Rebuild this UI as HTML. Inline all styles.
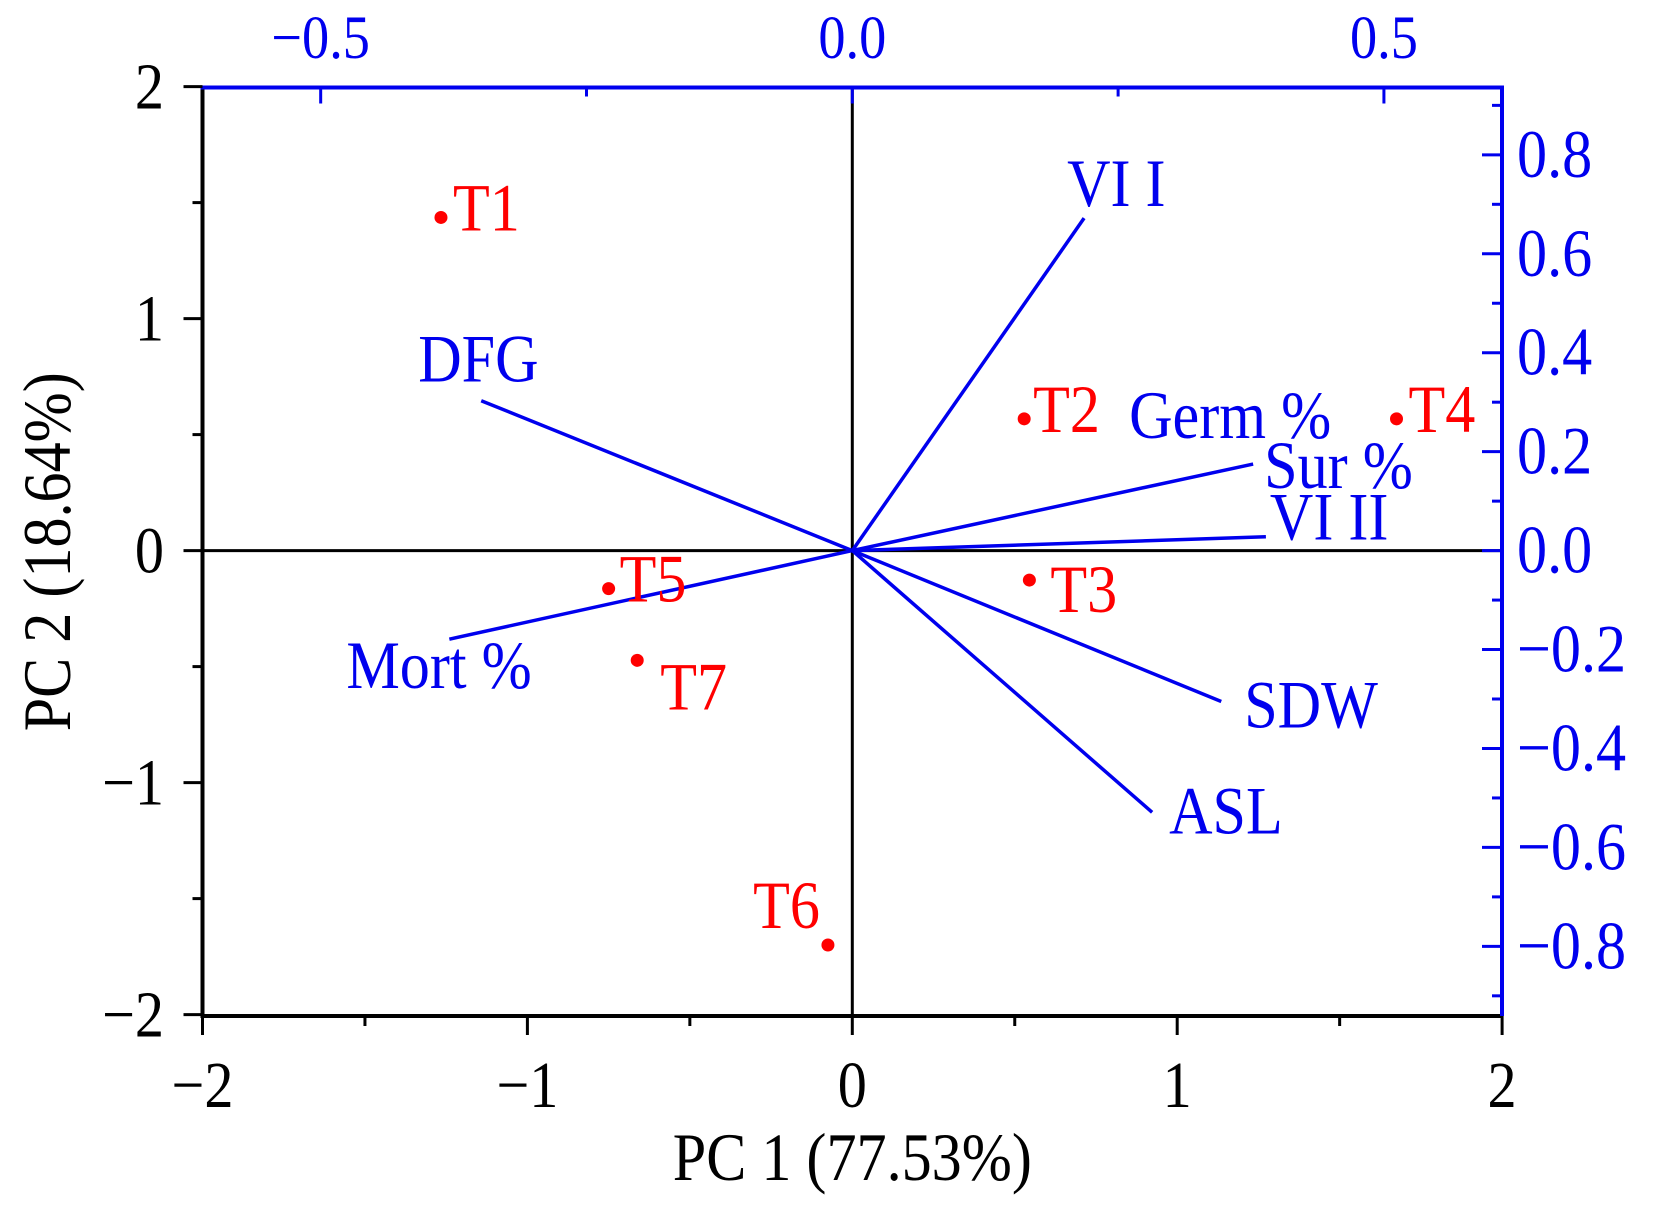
<!DOCTYPE html>
<html><head><meta charset="utf-8"><style>
html,body{margin:0;padding:0;background:#fff}
svg{display:block}
text{font-family:"Liberation Serif","Times New Roman",serif}
</style></head><body>
<svg id="chart" width="1654" height="1205" viewBox="0 0 1654 1205" xmlns="http://www.w3.org/2000/svg"></svg>
<script>
// Data
const scoreNames = ["T1","T2","T3","T4","T5","T6","T7"];
const scoreX = [-1.266, 0.529, 0.545, 1.675, -0.75, -0.075, -0.662];
const scoreY = [1.436, 0.568, -0.127, 0.568, -0.164, -1.70, -0.473];
const loadNames = ["VI I","DFG","Sur %","VI II","SDW","ASL","Mort %"];
const loadX = [0.218, -0.349, 0.377, 0.389, 0.347, 0.282, -0.379];
const loadY = [0.672, 0.303, 0.175, 0.028, -0.305, -0.529, -0.179];
const bottomTicks = [-2,-1,0,1,2];
const leftTicks = [-2,-1,0,1,2];
const topTicks = [-0.5,0.0,0.5];
const rightTicks = [-0.8,-0.6,-0.4,-0.2,0.0,0.2,0.4,0.6,0.8];

const L=202.5,R=1502,T=87.5,B=1016;
const x0=852.3, xu=324.9, y0=550.6, yu=232;
const lxu=1008*1.0548, lyu=469*1.0548;
const sx=v=>x0+v*xu, sy=v=>y0-v*yu;
const lx=v=>x0+v*lxu, ly=v=>y0-v*lyu;
const svg=document.getElementById('chart');
const NS="http://www.w3.org/2000/svg";
const SXF=0.97, SYF=1.1;
function el(tag,attrs,parent){const e=document.createElementNS(NS,tag);for(const k in attrs)e.setAttribute(k,attrs[k]);(parent||svg).appendChild(e);return e;}
function txt(s,x,y,attrs){const e=el('text',Object.assign({x:0,y:0,transform:`translate(${x},${y}) scale(${SXF},${SYF})`},attrs));e.textContent=s;return e;}
const fmt=v=>(v<0?"\u2212":"")+Math.abs(v).toFixed(1);
const fmtI=v=>(v<0?"\u2212":"")+Math.abs(v);

// zero lines
let z=el('line',{x1:L,x2:R,y1:sy(0),y2:sy(0),stroke:'#000','stroke-width':3});


z=el('line',{x1:sx(0),x2:sx(0),y1:T,y2:B,stroke:'#000','stroke-width':3});



// axes
let a=el('line',{x1:L,x2:L,y1:T,y2:B+2,stroke:'#000','stroke-width':4});


a=el('line',{x1:L-2,x2:R,y1:B,y2:B,stroke:'#000','stroke-width':4});


a=el('line',{x1:L-2,x2:R+2,y1:T,y2:T,stroke:'#0000ee','stroke-width':4});


a=el('line',{x1:R,x2:R,y1:T,y2:B,stroke:'#0000ee','stroke-width':4});



// bottom & left ticks
for(let v=-2;v<=2.001;v+=0.5){
  const major=Math.abs(v-Math.round(v))<1e-6;
  const t=el('line',{x1:sx(v),x2:sx(v),y1:B,y2:B+(major?19:10),stroke:'#000','stroke-width':3});
  
  
  const t2=el('line',{x1:L,x2:L-(major?19:10),y1:sy(v),y2:sy(v),stroke:'#000','stroke-width':3});
  
  
}
bottomTicks.forEach(v=>{const e=txt(fmtI(v),sx(v),1107,{'font-size':60,'text-anchor':'middle',fill:'#000'});

});
leftTicks.forEach(v=>{const e=txt(fmtI(v),164,sy(v)+22,{'font-size':60,'text-anchor':'end',fill:'#000'});

});

// top ticks (loadings x)
for(let v=-0.75;v<=0.6;v+=0.25){
  const X=lx(v); if(X<L||X>R) continue;
  const major=Math.abs(v*2-Math.round(v*2))<1e-6;
  const t=el('line',{x1:X,x2:X,y1:T,y2:T+(major?16:9),stroke:'#0000ee','stroke-width':3});
  
  
}
topTicks.forEach(v=>{const e=txt(fmt(v),lx(v),58,{'font-size':56,'text-anchor':'middle',fill:'#0000ee'});

});
// right ticks
for(let i=-9;i<=9;i++){
  const v=i/10, Y=ly(v); if(Y<T||Y>B) continue;
  const major=i%2===0;
  const t=el('line',{x1:R,x2:R-(major?20:10),y1:Y,y2:Y,stroke:'#0000ee','stroke-width':3});
  
  
}
rightTicks.forEach(v=>{const e=txt(fmt(v),1517,ly(v)+22,{'font-size':62,fill:'#0000ee'});

});

// loadings
const loadOff=[[-17,-12],[-63,-19],[11,24],[4,3],[23,26],[17,21],[-103,49]];
loadNames.forEach((n,i)=>{
  const ln=el('line',{x1:sx(0),y1:sy(0),x2:lx(loadX[i]),y2:ly(loadY[i]),stroke:'#0000ee','stroke-width':3.5});
  
  
  const e=txt(n,lx(loadX[i])+loadOff[i][0],ly(loadY[i])+loadOff[i][1],{'font-size':62,fill:'#0000ee'});
  
  
});
// Germ % label (near Sur %)
const g=txt("Germ %",lx(loadX[2])-124,ly(loadY[2])-26,{'font-size':62,fill:'#0000ee'});



// scores
const scoreOff=[[12,13],[9,13],[21,32],[12,13],[11,13],[-8,-17],[23,49]];
scoreNames.forEach((n,i)=>{
  const c=el('circle',{cx:sx(scoreX[i]),cy:sy(scoreY[i]),r:6.5,fill:'#ff0000'});
  
  
  const e=txt(n,sx(scoreX[i])+scoreOff[i][0],sy(scoreY[i])+scoreOff[i][1],{'font-size':62,fill:'#ff0000','text-anchor':n==='T6'?'end':'start'});
  
  
});

// titles
let xt=txt("PC 1 (77.53%)",sx(0),1180,{'font-size':62,'text-anchor':'middle',fill:'#000'});


let yt=el('text',{x:0,y:0,'font-size':62,'text-anchor':'middle',fill:'#000',transform:`translate(70,${(T+B)/2}) rotate(-90) scale(${SXF},${SYF})`});
yt.textContent="PC 2 (18.64%)";


</script>
</body></html>
